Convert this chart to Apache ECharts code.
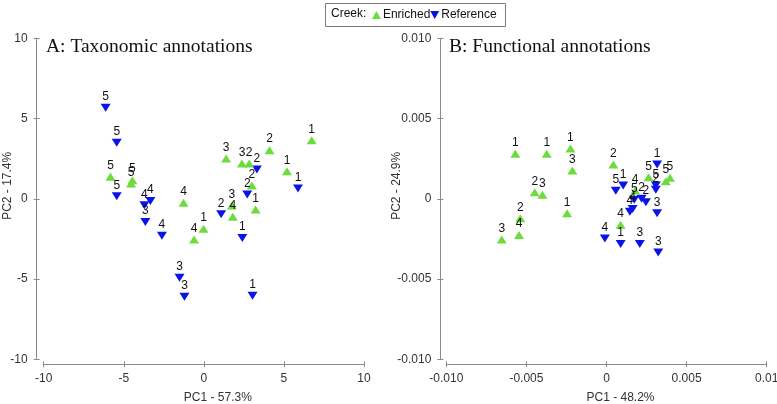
<!DOCTYPE html>
<html><head><meta charset="utf-8">
<script src="https://cdn.jsdelivr.net/npm/echarts@6/dist/echarts.min.js"></script>
<style>html,body{margin:0;padding:0;background:#fff}#c{width:777px;height:404px}</style>
</head><body><div id="c"></div>
<script>
// ---- data ----
const seriesNames = ['Enriched', 'Reference'];
const panelTitles = ['A: Taxonomic annotations', 'B: Functional annotations'];
const xNames = ['PC1 - 57.3%', 'PC1 - 48.2%'];
const yNames = ['PC2 - 17.4%', 'PC2 - 24.9%'];
const taxTicks = ['-10', '-5', '0', '5', '10'];
const funXTicks = ['-0.010', '-0.005', '0', '0.005', '0.01'];
const funYTicks = ['-0.010', '-0.005', '0', '0.005', '0.010'];

// [PC1, PC2, label]
const taxEnriched = [[-5.83,1.37,'5'],[-4.46,1.16,'5'],[-4.54,0.95,'5'],[-1.27,-0.25,'4'],[1.39,2.51,'3'],[2.38,2.2,'3'],[2.83,2.2,'2'],[4.10,3.03,'2'],[6.73,3.65,'1'],[5.19,1.72,'1'],[3.0,0.83,'2'],[3.23,-0.67,'1'],[1.75,-0.42,'3'],[1.81,-1.12,'4'],[-0.02,-1.87,'1'],[-0.61,-2.54,'4']];
const taxReference = [[-6.13,5.67,'5'],[-5.44,3.49,'5'],[-5.44,0.16,'5'],[-3.71,-0.40,'4'],[-3.34,-0.13,'4'],[-3.65,-1.45,'3'],[3.31,1.83,'2'],[5.88,0.64,'1'],[2.71,0.27,'2'],[1.08,-0.96,'2'],[-2.62,-2.30,'4'],[2.40,-2.44,'1'],[-1.52,-4.92,'3'],[-1.21,-6.11,'3'],[3.04,-6.04,'1']];
const funEnriched = [[-0.00569,0.00281,'1'],[-0.00373,0.00281,'1'],[-0.00225,0.00313,'1'],[-0.00213,0.00177,'3'],[-0.00448,0.00041,'2'],[-0.0040,0.00025,'3'],[-0.00246,-0.0009,'1'],[-0.00538,-0.00121,'2'],[-0.00546,-0.00225,'4'],[-0.00654,-0.00254,'3'],[0.00043,0.00213,'2'],[0.00263,0.00134,'5'],[0.0037,0.0011,'5'],[0.00396,0.00131,'5'],[0.00179,0.00052,'4'],[0.00088,-0.00161,'4']];
const funReference = [[0.00316,0.00214,'1'],[0.00058,0.0005,'5'],[0.00104,0.00083,'1'],[0.00308,0.00083,'5'],[0.00308,0.00056,'2'],[0.00316,-0.0009,'3'],[0.00173,-0.00006,'5'],[0.00219,0.0,'2'],[0.00246,-0.00021,'2'],[0.00163,-0.00063,'4'],[0.00146,-0.0008,'4'],[-0.0001,-0.00248,'4'],[0.00088,-0.00281,'1'],[0.00208,-0.00281,'3'],[0.00323,-0.00334,'3']];

// ---- styles ----
const GREEN = '#6cdc3c', BLUE = '#0a14e6';
const UP = 'path://M5,0L10,9L0,9Z';
const DOWN = 'path://M0,0L10,0L5,9Z';
const AX = '#8a8a8a';
const FONT = 'Liberation Sans';

function xAxisPair(grid, min, max, interval, ticks, name, offset) {
  const base = {
    type: 'value', gridIndex: grid, min: min, max: max, interval: interval,
    position: 'bottom', offset: offset, splitLine: {show: false},
    axisLine: {show: true, onZero: false, lineStyle: {color: AX, width: 1}}
  };
  return [
    Object.assign({}, base, {
      name: name, nameLocation: 'middle', nameGap: 27, nameMoveOverlap: false,
      nameTextStyle: {fontFamily: FONT, fontSize: 12, color: '#333', padding: [0, 0, 0, 28]},
      axisTick: {show: true, inside: false, length: 3, lineStyle: {color: AX}},
      axisLabel: {fontFamily: FONT, fontSize: 12, color: '#333', margin: 8,
        formatter: (v, i) => ticks[i]}
    }),
    Object.assign({}, base, {
      axisTick: {show: true, inside: true, length: 3, lineStyle: {color: AX}},
      axisLabel: {show: false}
    })
  ];
}
function yAxisPair(grid, min, max, interval, ticks, name, offset, gap, margin) {
  const base = {
    type: 'value', gridIndex: grid, min: min, max: max, interval: interval,
    position: 'left', offset: offset, splitLine: {show: false},
    axisLine: {show: true, onZero: false, lineStyle: {color: AX, width: 1}}
  };
  return [
    Object.assign({}, base, {
      name: name, nameLocation: 'middle', nameGap: gap, nameMoveOverlap: false,
      nameTextStyle: {fontFamily: FONT, fontSize: 12, color: '#333', padding: [0, 0, 0, 26]},
      axisTick: {show: true, inside: false, length: 3, lineStyle: {color: AX}},
      axisLabel: {fontFamily: FONT, fontSize: 12, color: '#333', margin: margin,
        formatter: (v, i) => ticks[i]}
    }),
    Object.assign({}, base, {
      axisTick: {show: true, inside: true, length: 3, lineStyle: {color: AX}},
      axisLabel: {show: false}
    })
  ];
}
function scatter(name, data, xi, yi, color, symbol) {
  return {
    name: name, type: 'scatter', xAxisIndex: xi, yAxisIndex: yi,
    data: data, symbol: symbol, symbolSize: [10, 8],
    itemStyle: {color: color, opacity: 1},
    label: {show: true, position: 'top', distance: 1, color: '#111',
      fontFamily: FONT, fontSize: 12, formatter: p => p.value[2]},
    emphasis: {disabled: true}, animation: false
  };
}

const chart = echarts.init(document.getElementById('c'), null, {renderer: 'canvas'});
chart.setOption({
  animation: false,
  backgroundColor: '#fff',
  title: [
    {text: panelTitles[0], left: 46, top: 37, padding: 0,
      textStyle: {fontFamily: 'Liberation Serif', fontSize: 19.5, fontWeight: 'normal', color: '#111', lineHeight: 20}},
    {text: panelTitles[1], left: 449, top: 37, padding: 0,
      textStyle: {fontFamily: 'Liberation Serif', fontSize: 19.5, fontWeight: 'normal', color: '#111', lineHeight: 20}}
  ],
  legend: {
    data: [{name: seriesNames[0], icon: UP}, {name: seriesNames[1], icon: DOWN}],
    left: 372, top: 9, padding: 0, itemGap: 0, itemWidth: 9, itemHeight: 8,
    textStyle: {fontFamily: FONT, fontSize: 12, color: '#111', padding: [0, 0, 0, -3]}
  },
  graphic: [
    {type: 'rect', shape: {x: 325.5, y: 3.5, width: 180, height: 23},
      style: {fill: 'none', stroke: '#7a7a7a', lineWidth: 1}, silent: true},
    {type: 'text', left: 331, top: 8,
      style: {text: 'Creek:', fontFamily: FONT, fontSize: 12, fill: '#111'}, silent: true}
  ],
  grid: [
    {left: 43.7, top: 38.3, width: 320.3, height: 321, containLabel: false, outerBoundsMode: 'none'},
    {left: 446.3, top: 38.3, width: 320.4, height: 321, containLabel: false, outerBoundsMode: 'none'}
  ],
  xAxis: [].concat(
    xAxisPair(0, -10, 10, 5, taxTicks, xNames[0], 5),
    xAxisPair(1, -0.01, 0.01, 0.005, funXTicks, xNames[1], 5)
  ),
  yAxis: [].concat(
    yAxisPair(0, -10, 10, 5, taxTicks, yNames[0], 7, 23, 9),
    yAxisPair(1, -0.01, 0.01, 0.005, funYTicks, yNames[1], 6, 38, 9)
  ),
  series: [
    scatter(seriesNames[1], taxReference, 0, 0, BLUE, DOWN),
    scatter(seriesNames[0], taxEnriched, 0, 0, GREEN, UP),
    scatter(seriesNames[1], funReference, 2, 2, BLUE, DOWN),
    scatter(seriesNames[0], funEnriched, 2, 2, GREEN, UP)
  ]
});
</script></body></html>
